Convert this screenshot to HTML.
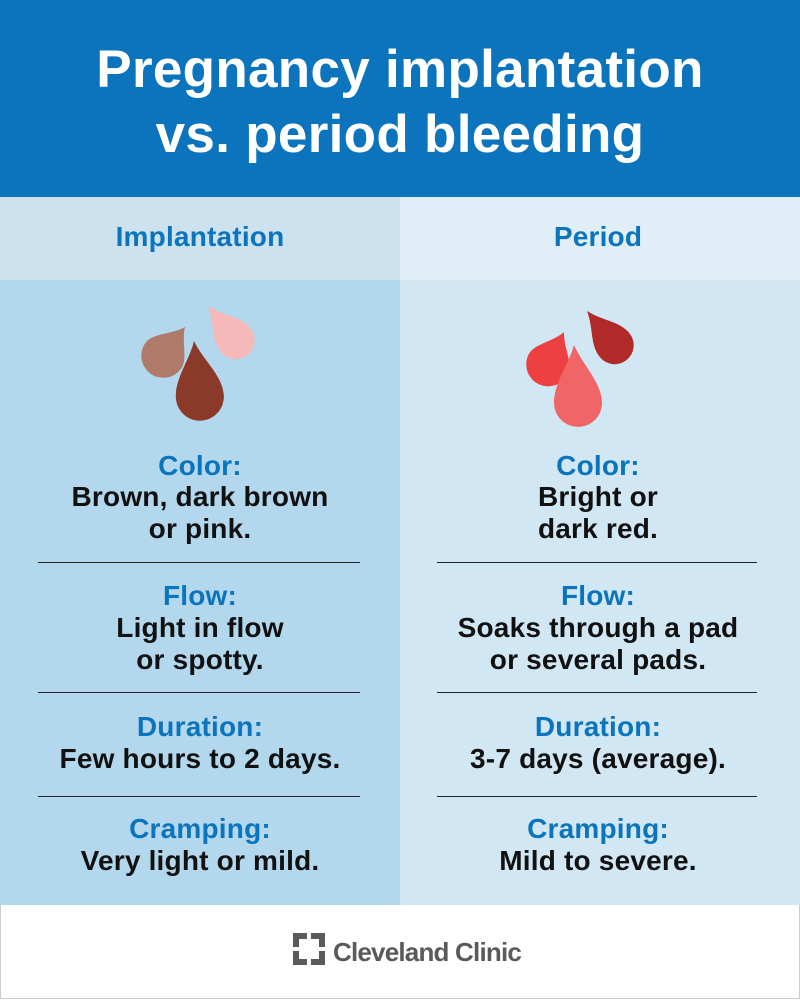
<!DOCTYPE html>
<html><head><meta charset="utf-8"><style>
body{margin:0;width:800px;height:1000px;position:relative;font-family:"Liberation Sans",Arial,sans-serif;font-weight:bold;overflow:hidden;background:#fff}
div{position:absolute}
.t{left:0;width:800px;text-align:center;color:#fff;font-size:53px;line-height:64px;letter-spacing:0.3px}
.col{text-align:center;width:400px;white-space:nowrap}
.lab{color:#0b74bd;font-size:28px;line-height:32px;letter-spacing:0.2px}
.txt{color:#111;font-size:28px;line-height:32px;letter-spacing:0.2px}
.ln{height:1px;background:#222}
</style></head><body>
<div style="left:0;top:0;width:800px;height:197px;background:#0b74bd"></div>
<div class="t" style="top:38px">Pregnancy implantation</div>
<div class="t" style="top:103px">vs. period bleeding</div>
<div style="left:0;top:197px;width:400px;height:83px;background:#cce3ef"></div>
<div style="left:400px;top:197px;width:400px;height:83px;background:#dfeef7"></div>
<div style="left:0;top:280px;width:400px;height:625px;background:#b3d8ed"></div>
<div style="left:400px;top:280px;width:400px;height:625px;background:#d1e7f4"></div>
<div style="left:0;top:905px;width:798px;height:93px;border:1px solid #ccc;border-top:none;background:#fff"></div>
<div class="col lab" style="left:0;top:221px">Implantation</div>
<div class="col lab" style="left:398px;top:221px">Period</div>
<svg style="position:absolute;left:0;top:0" width="800" height="1000">
<path transform="translate(185,327) rotate(37)" fill="#b07a6a" d="M0,0 C6,14 22,24 22,36 A22 22 0 1 1 -22,36 C-22,24 -6,14 0,0Z"/>
<path transform="translate(194,341) rotate(-6)" fill="#8b3a2a" d="M0,0 C7,20 24,36 24,56 A24 24 0 1 1 -24,56 C-24,36 -7,20 0,0Z"/>
<path transform="translate(208,306) rotate(-39)" fill="#f6b9ba" d="M0,0 C6,18 19,28 19,44 A19 19 0 1 1 -19,44 C-19,28 -6,18 0,0Z"/>
<path transform="translate(564,332) rotate(26)" fill="#ee4040" d="M0,0 C6,14 22,24 22,36 A22 22 0 1 1 -22,36 C-22,24 -6,14 0,0Z"/>
<path transform="translate(574,345) rotate(-4)" fill="#f06666" d="M0,0 C7,20 24,38 24,58 A24 24 0 1 1 -24,58 C-24,38 -7,20 0,0Z"/>
<path transform="translate(587,311) rotate(-39)" fill="#b02a2a" d="M0,0 C6,18 19,28 19,44 A19 19 0 1 1 -19,44 C-19,28 -6,18 0,0Z"/>
<g fill="#5a5a5a">
<path d="M293,933 h14 v6 h-8 v8 h-6z M311,933 h14 v14 h-6 v-8 h-8z M293,951 h6 v8 h8 v6 h-14z M319,951 h6 v14 h-14 v-6 h8z"/>
</g>
<text x="333" y="961" font-family="Liberation Sans,Arial,sans-serif" font-weight="bold" font-size="26" fill="#5a5a5a" letter-spacing="-0.8">Cleveland Clinic</text>
</svg>
<div class="col lab" style="left:0;top:450px">Color:</div>
<div class="col txt" style="left:0;top:481px">Brown, dark brown<br>or pink.</div>
<div class="col lab" style="left:398px;top:450px">Color:</div>
<div class="col txt" style="left:398px;top:481px">Bright or<br>dark red.</div>
<div class="ln" style="left:38px;top:562px;width:322px"></div>
<div class="ln" style="left:437px;top:562px;width:320px"></div>
<div class="col lab" style="left:0;top:580px">Flow:</div>
<div class="col txt" style="left:0;top:612px">Light in flow<br>or spotty.</div>
<div class="col lab" style="left:398px;top:580px">Flow:</div>
<div class="col txt" style="left:398px;top:612px">Soaks through a pad<br>or several pads.</div>
<div class="ln" style="left:38px;top:692px;width:322px"></div>
<div class="ln" style="left:437px;top:692px;width:320px"></div>
<div class="col lab" style="left:0;top:711px">Duration:</div>
<div class="col txt" style="left:0;top:743px">Few hours to 2 days.</div>
<div class="col lab" style="left:398px;top:711px">Duration:</div>
<div class="col txt" style="left:398px;top:743px">3-7 days (average).</div>
<div class="ln" style="left:38px;top:796px;width:322px"></div>
<div class="ln" style="left:437px;top:796px;width:320px"></div>
<div class="col lab" style="left:0;top:813px">Cramping:</div>
<div class="col txt" style="left:0;top:845px">Very light or mild.</div>
<div class="col lab" style="left:398px;top:813px">Cramping:</div>
<div class="col txt" style="left:398px;top:845px">Mild to severe.</div>
</body></html>
